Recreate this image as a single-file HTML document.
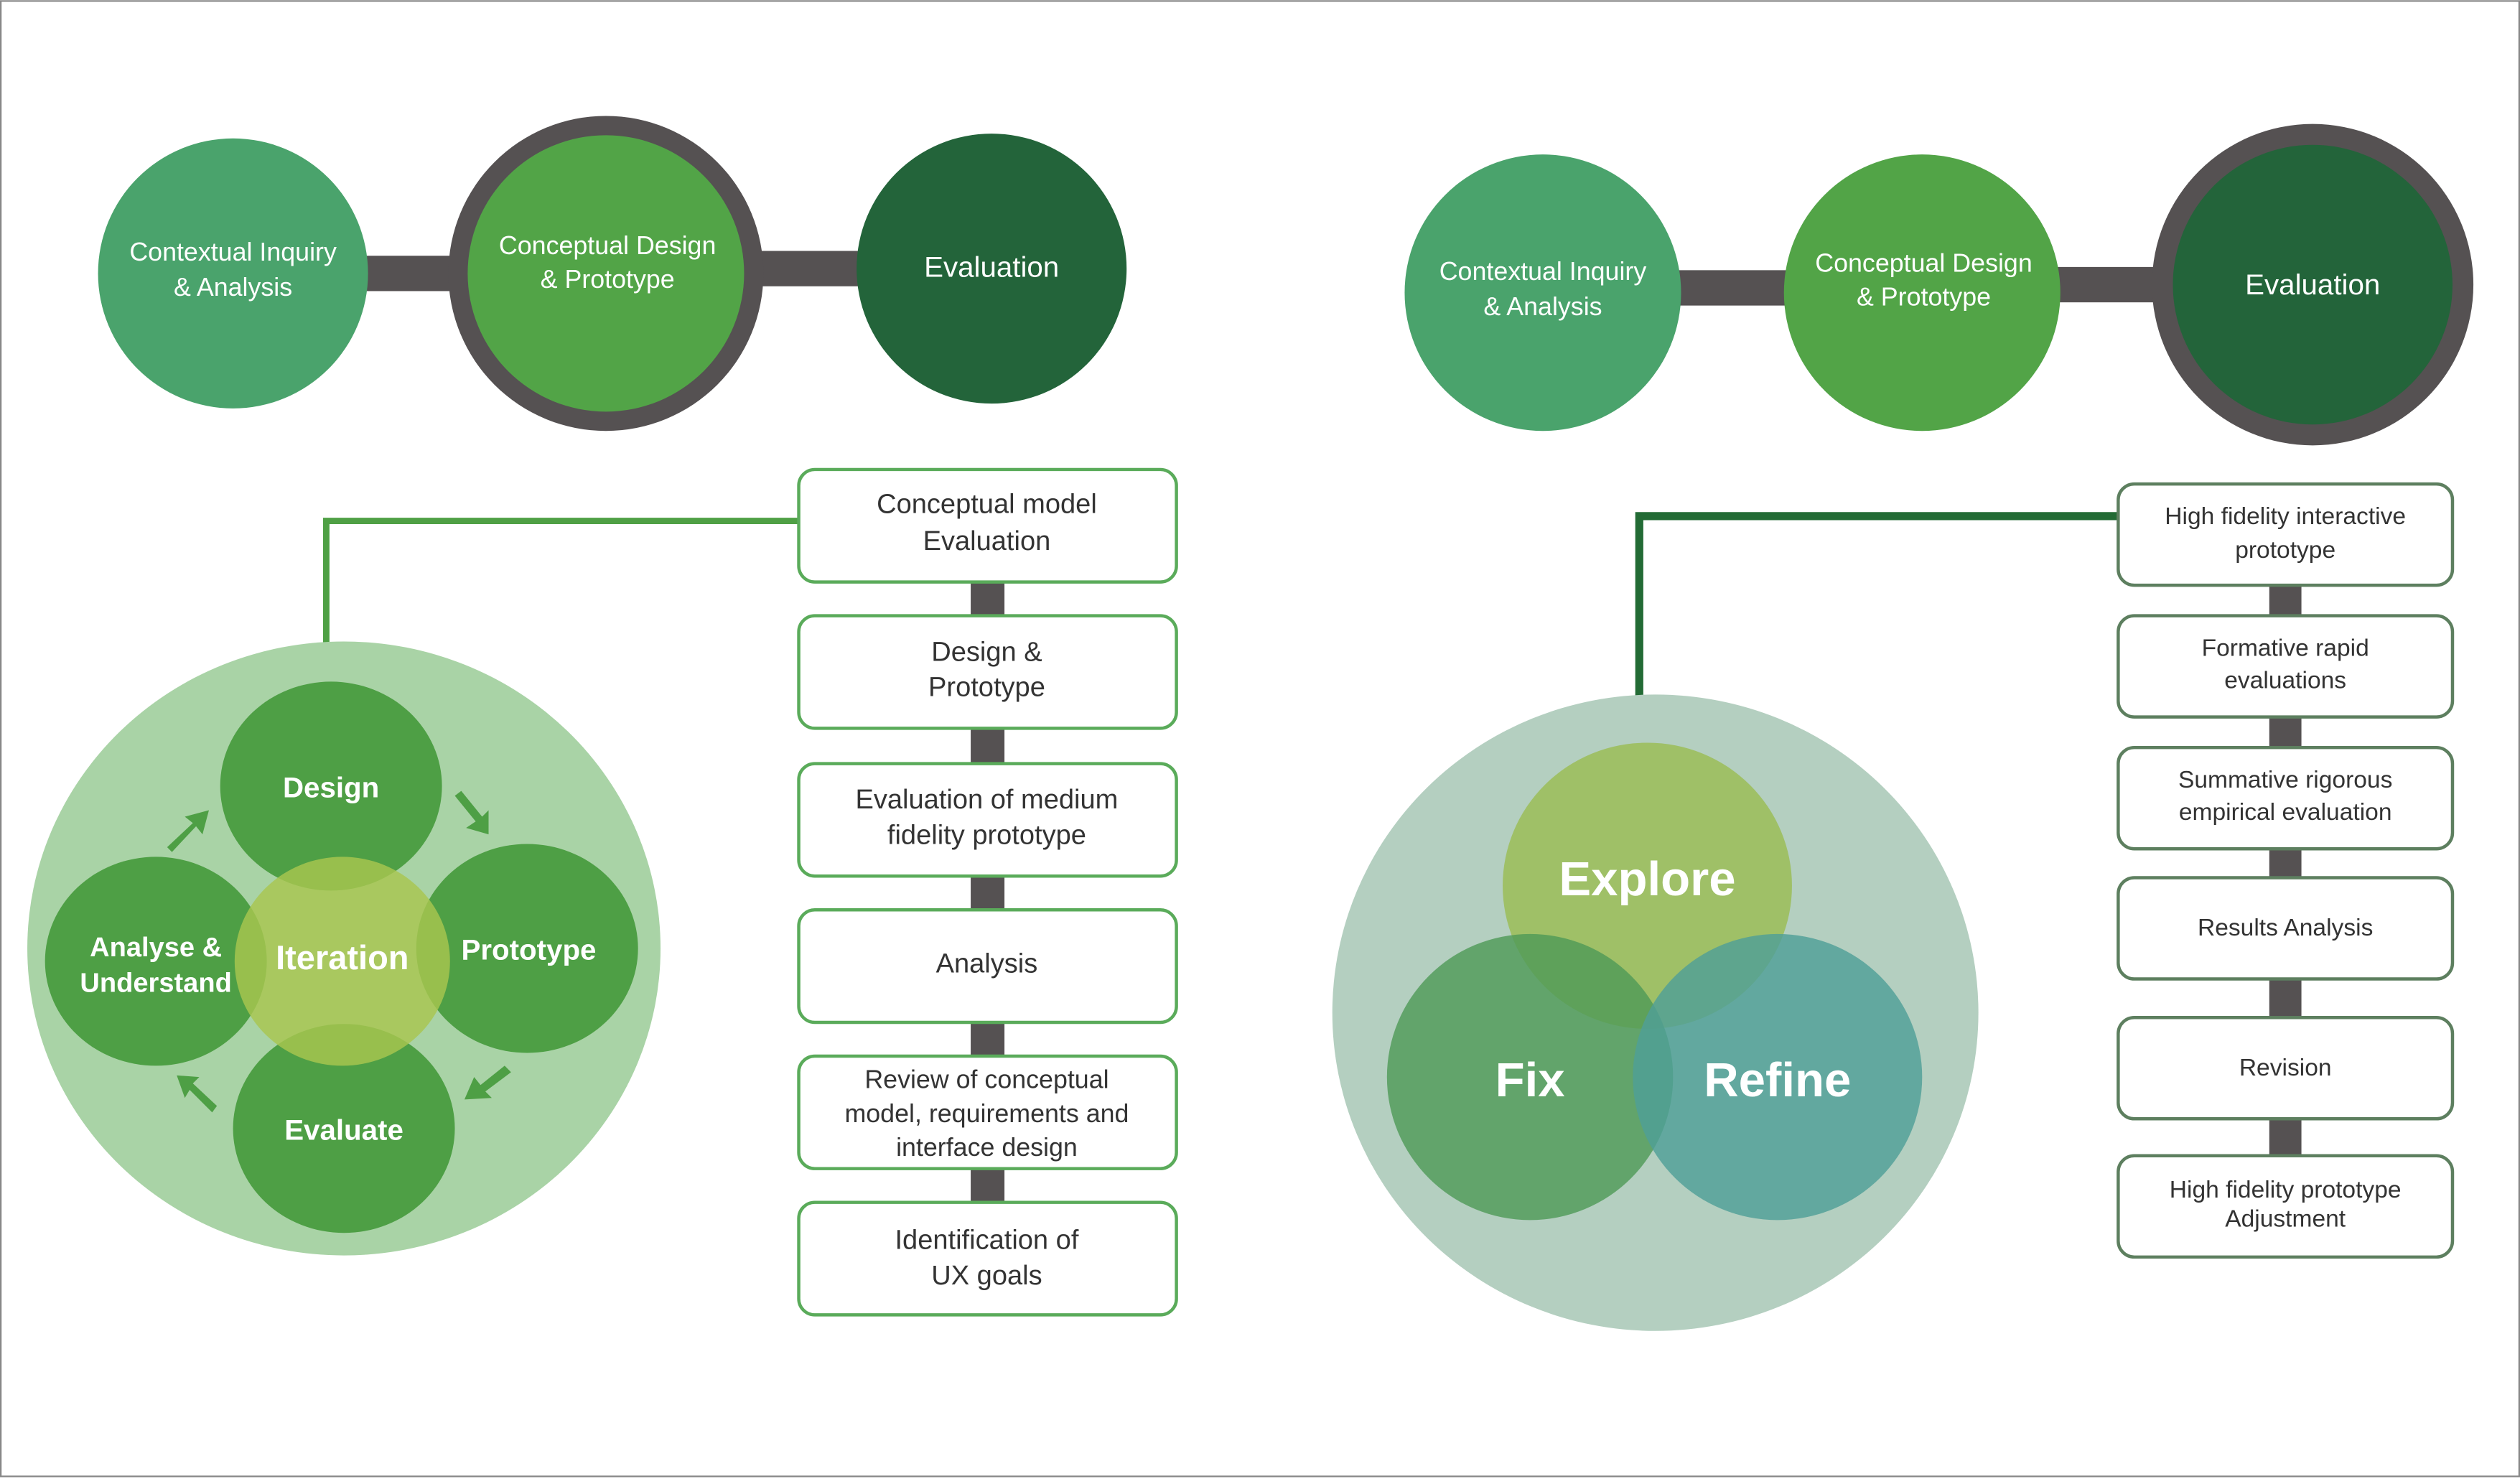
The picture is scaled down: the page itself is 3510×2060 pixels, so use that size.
<!DOCTYPE html>
<html><head><meta charset="utf-8"><style>
html,body{margin:0;padding:0;background:#fff;}
svg{display:block;}
text{font-family:"Liberation Sans",sans-serif;}
</style></head><body>
<svg width="3510" height="2060" viewBox="0 0 1568 920" xmlns="http://www.w3.org/2000/svg">
<rect x="0" y="0" width="1568" height="920" fill="#fff"/>
<rect x="0.5" y="0.5" width="1567" height="918" fill="none" stroke="#888" stroke-width="1"/>

<!-- LEFT TOP -->
<rect x="220" y="159" width="90" height="22" fill="#555152"/>
<rect x="455" y="156" width="90" height="22" fill="#555152"/>
<circle cx="145" cy="170" r="84" fill="#4aa36c"/>
<circle cx="377" cy="170" r="98" fill="#555152"/>
<circle cx="377" cy="170" r="86" fill="#52a447"/>
<circle cx="617" cy="167" r="84" fill="#23643a"/>
<g fill="#fff" font-size="16" text-anchor="middle">
<text x="145" y="162">Contextual Inquiry</text>
<text x="145" y="184">&amp; Analysis</text>
<text x="378" y="158">Conceptual Design</text>
<text x="378" y="179">&amp; Prototype</text>
<text x="617" y="172" font-size="18">Evaluation</text>
</g>

<!-- left connector -->
<polyline points="203,402 203,324 497,324" fill="none" stroke="#4fa045" stroke-width="4"/>

<!-- left big circle -->
<ellipse cx="214" cy="590" rx="197" ry="191" fill="#a9d3a6"/>
<g fill="#4e9f45">
<ellipse cx="206" cy="489" rx="69" ry="65"/>
<ellipse cx="328" cy="590" rx="69" ry="65"/>
<ellipse cx="214" cy="702" rx="69" ry="65"/>
<ellipse cx="97" cy="598" rx="69" ry="65"/>
</g>
<ellipse cx="213" cy="598" rx="67" ry="65" fill="#a8c64f" fill-opacity="0.82"/>
<g fill="#4e9f45">
<path d="M104,527 L120,512 L115,508 L130,504 L126,519 L122,514 L107,530Z"/>
<path d="M287,492 L300,508 L304,504 L304,519 L290,515 L296,511 L283,495Z"/>
<path d="M318,667 L302,679 L306,683 L289,684 L295,670 L299,675 L314,663Z"/>
<path d="M132,692 L118,678 L115,683 L110,669 L124,670 L120,674 L135,688Z"/>
</g>
<g fill="#fff" font-size="18" text-anchor="middle" font-weight="bold">
<text x="206" y="496">Design</text>
<text x="329" y="597">Prototype</text>
<text x="214" y="709">Evaluate</text>
<text x="97" y="595" font-size="17">Analyse &amp;</text>
<text x="97" y="617" font-size="17">Understand</text>
<text x="213" y="603" font-size="21">Iteration</text>
</g>

<!-- left boxes -->
<g fill="#555152">
<rect x="604" y="362" width="21" height="21"/>
<rect x="604" y="453" width="21" height="22"/>
<rect x="604" y="545" width="21" height="21"/>
<rect x="604" y="636" width="21" height="21"/>
<rect x="604" y="727" width="21" height="21"/>
</g>
<g fill="#fff" stroke="#5aab5a" stroke-width="2">
<rect x="497" y="292" width="235" height="70" rx="10"/>
<rect x="497" y="383" width="235" height="70" rx="10"/>
<rect x="497" y="475" width="235" height="70" rx="10"/>
<rect x="497" y="566" width="235" height="70" rx="10"/>
<rect x="497" y="657" width="235" height="70" rx="10"/>
<rect x="497" y="748" width="235" height="70" rx="10"/>
</g>
<g fill="#333" font-size="17" text-anchor="middle">
<text x="614" y="319">Conceptual model</text>
<text x="614" y="342">Evaluation</text>
<text x="614" y="411">Design &amp;</text>
<text x="614" y="433">Prototype</text>
<text x="614" y="503">Evaluation of medium</text>
<text x="614" y="525">fidelity prototype</text>
<text x="614" y="605">Analysis</text>
<text x="614" y="677" font-size="16">Review of conceptual</text>
<text x="614" y="698" font-size="16">model, requirements and</text>
<text x="614" y="719" font-size="16">interface design</text>
<text x="614" y="777">Identification of</text>
<text x="614" y="799">UX goals</text>
</g>

<!-- RIGHT TOP -->
<rect x="1040" y="168" width="80" height="22" fill="#555152"/>
<rect x="1275" y="166" width="75" height="22" fill="#555152"/>
<circle cx="960" cy="182" r="86" fill="#4aa36c"/>
<circle cx="1196" cy="182" r="86" fill="#52a447"/>
<circle cx="1439" cy="177" r="100" fill="#555152"/>
<circle cx="1439" cy="177" r="87" fill="#23643a"/>
<g fill="#fff" font-size="16" text-anchor="middle">
<text x="960" y="174">Contextual Inquiry</text>
<text x="960" y="196">&amp; Analysis</text>
<text x="1197" y="169">Conceptual Design</text>
<text x="1197" y="190">&amp; Prototype</text>
<text x="1439" y="183" font-size="18">Evaluation</text>
</g>

<polyline points="1020,435 1020,321 1318,321" fill="none" stroke="#236b35" stroke-width="5"/>

<ellipse cx="1030" cy="630" rx="201" ry="198" fill="#b4cfc0"/>
<ellipse cx="1025" cy="551" rx="90" ry="89" fill="#9fc067"/>
<ellipse cx="952" cy="670" rx="89" ry="89" fill="#4f9a58" fill-opacity="0.82"/>
<ellipse cx="1106" cy="670" rx="90" ry="89" fill="#4f9f97" fill-opacity="0.82"/>
<g fill="#fff" font-size="30" font-weight="bold" text-anchor="middle">
<text x="1025" y="557">Explore</text>
<text x="952" y="682">Fix</text>
<text x="1106" y="682">Refine</text>
</g>

<g fill="#555152">
<rect x="1412" y="364" width="20" height="19"/>
<rect x="1412" y="446" width="20" height="19"/>
<rect x="1412" y="528" width="20" height="18"/>
<rect x="1412" y="609" width="20" height="24"/>
<rect x="1412" y="696" width="20" height="23"/>
</g>
<g fill="#fff" stroke="#5d7f5f" stroke-width="2">
<rect x="1318" y="301" width="208" height="63" rx="10"/>
<rect x="1318" y="383" width="208" height="63" rx="10"/>
<rect x="1318" y="465" width="208" height="63" rx="10"/>
<rect x="1318" y="546" width="208" height="63" rx="10"/>
<rect x="1318" y="633" width="208" height="63" rx="10"/>
<rect x="1318" y="719" width="208" height="63" rx="10"/>
</g>
<g fill="#333" font-size="15" text-anchor="middle">
<text x="1422" y="326">High fidelity interactive</text>
<text x="1422" y="347">prototype</text>
<text x="1422" y="408">Formative rapid</text>
<text x="1422" y="428">evaluations</text>
<text x="1422" y="490">Summative rigorous</text>
<text x="1422" y="510">empirical evaluation</text>
<text x="1422" y="582">Results Analysis</text>
<text x="1422" y="669">Revision</text>
<text x="1422" y="745">High fidelity prototype</text>
<text x="1422" y="763">Adjustment</text>
</g>
</svg>
</body></html>
